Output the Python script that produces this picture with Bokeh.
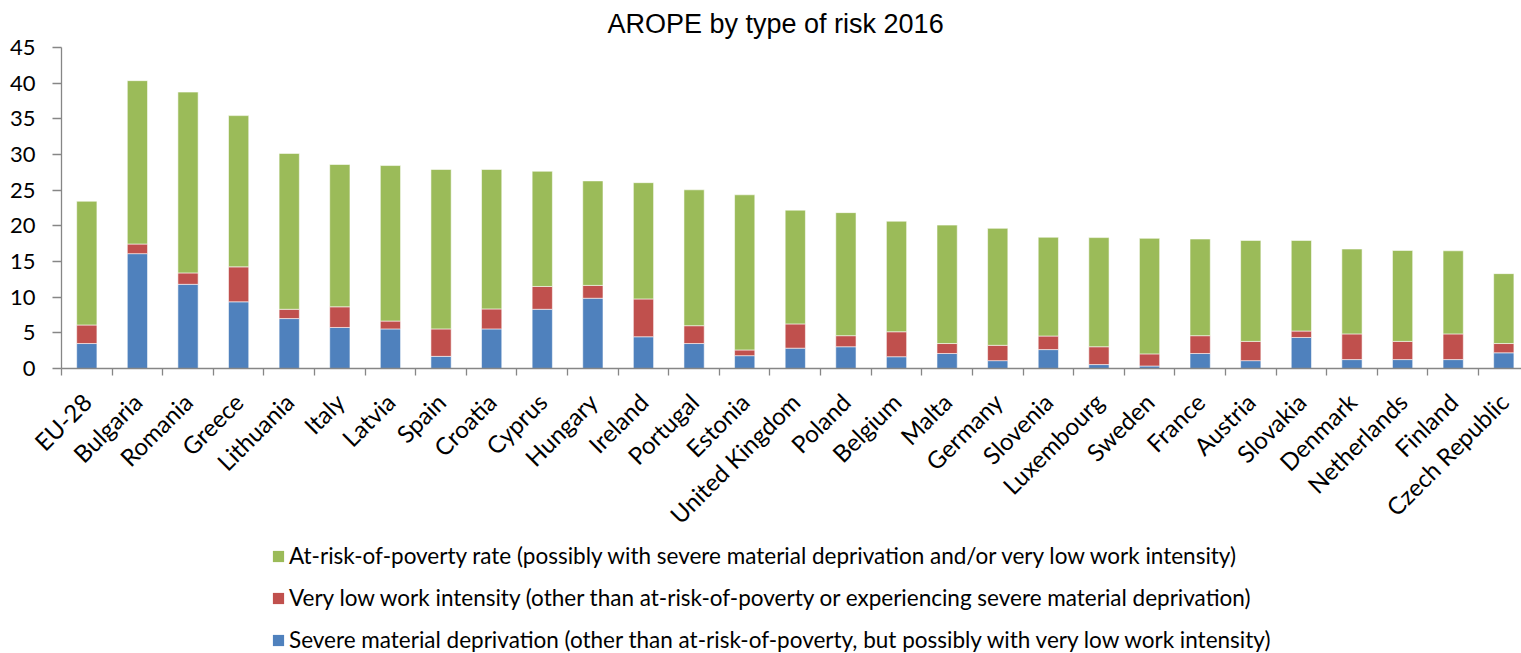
import math
from bokeh.plotting import figure
from bokeh.layouts import column
from bokeh.models import (ColumnDataSource, Range1d, FixedTicker, Legend, LegendItem,
                          LinearAxis)
from bokeh.embed import file_html
from bokeh.resources import INLINE

countries = ["EU-28", "Bulgaria", "Romania", "Greece", "Lithuania", "Italy", "Latvia",
             "Spain", "Croatia", "Cyprus", "Hungary", "Ireland", "Portugal", "Estonia",
             "United Kingdom", "Poland", "Belgium", "Malta", "Germany", "Slovenia",
             "Luxembourg", "Sweden", "France", "Austria", "Slovakia", "Denmark",
             "Netherlands", "Finland", "Czech Republic"]

severe_md = [3.5, 16.1, 11.8, 9.35, 7.0, 5.75, 5.55, 1.7, 5.55, 8.3, 9.85, 4.45, 3.5, 1.8,
             2.85, 3.05, 1.65, 2.1, 1.1, 2.65, 0.55, 0.35, 2.1, 1.1, 4.35, 1.25, 1.25, 1.25, 2.2]
low_work = [2.6, 1.35, 1.6, 4.9, 1.3, 2.9, 1.1, 3.85, 2.8, 3.2, 1.8, 5.3, 2.5, 0.8,
            3.4, 1.55, 3.5, 1.4, 2.15, 1.9, 2.5, 1.7, 2.5, 2.7, 0.9, 3.6, 2.55, 3.6, 1.3]
poverty = [17.35, 22.9, 25.35, 21.2, 21.85, 19.95, 21.8, 22.35, 19.55, 16.15, 14.65, 16.3,
           19.05, 21.75, 15.95, 17.25, 15.5, 16.6, 16.4, 13.85, 15.3, 16.2, 13.55, 14.15,
           12.7, 11.9, 12.75, 11.65, 9.8]

series_keys = ["severe", "lowwork", "poverty"]
series_labels = [
    "Severe material deprivation (other than at-risk-of-poverty, but possibly with very low work intensity)",
    "Very low work intensity (other than at-risk-of-poverty or experiencing severe material deprivation)",
    "At-risk-of-poverty rate (possibly with severe material deprivation and/or very low work intensity)",
]
colors = ["#4F81BD", "#C0504D", "#9BBB59"]
y_ticks = list(range(0, 50, 5))

xs = list(range(len(countries)))
source = ColumnDataSource(dict(x=xs, severe=severe_md, lowwork=low_work, poverty=poverty))

GRID = "#868686"

p = figure(width=1521, height=542, output_backend="svg", toolbar_location=None,
           x_range=Range1d(-0.5, 28.35), y_range=Range1d(0, 45),
           min_border_left=61, min_border_right=0, min_border_top=47, min_border_bottom=174,
           x_axis_type=None, y_axis_type=None)
p.outline_line_color = None
p.background_fill_color = "white"
p.border_fill_color = "white"

p.title.text = "AROPE by type of risk 2016"
p.title.text_font = "Liberation Sans"
p.title.text_font_size = "27px"
p.title.text_font_style = "normal"
p.title.text_color = "#000000"
p.title.align = "left"
p.title.offset = 546
p.title.vertical_align = "top"
p.title.standoff = 14

renderers = p.vbar_stack(series_keys, x="x", width=0.4, source=source, color=colors,
                         line_color="white", line_width=0.8, line_alpha=0.7)

# y axis
yaxis = LinearAxis(ticker=FixedTicker(ticks=y_ticks))
yaxis.axis_line_color = GRID
yaxis.axis_line_width = 1.3
yaxis.major_tick_line_color = GRID
yaxis.major_tick_line_width = 1.3
yaxis.major_tick_out = 9
yaxis.major_tick_in = 0
yaxis.minor_tick_line_color = None
yaxis.major_label_text_font = "Lato"
yaxis.major_label_text_font_size = "22px"
yaxis.major_label_text_color = "#000000"
yaxis.major_label_standoff = 17
p.add_layout(yaxis, "left")

# x axis (labels at category centres, tick marks at category boundaries)
xaxis = LinearAxis(ticker=FixedTicker(ticks=xs, minor_ticks=[i - 0.5 for i in range(len(countries) + 1)]))
xaxis.major_label_overrides = {i: c for i, c in enumerate(countries)}
xaxis.axis_line_color = GRID
xaxis.axis_line_width = 1.3
xaxis.major_tick_line_color = None
xaxis.major_tick_out = 0
xaxis.major_tick_in = 0
xaxis.minor_tick_line_color = GRID
xaxis.minor_tick_line_width = 1.3
xaxis.minor_tick_out = 7
xaxis.minor_tick_in = 0
xaxis.major_label_orientation = math.pi / 4
xaxis.major_label_text_font = "Lato"
xaxis.major_label_text_font_size = "24px"
xaxis.major_label_text_color = "#000000"
xaxis.major_label_standoff = 22
p.add_layout(xaxis, "below")

p.ygrid.ticker = FixedTicker(ticks=y_ticks)
p.ygrid.grid_line_color = GRID
p.ygrid.grid_line_width = 1.3
p.xgrid.grid_line_color = None

# legend panel below the chart (key swatches: zero-height bars, only used for the legend)
pl = figure(width=1521, height=111, output_backend="svg", toolbar_location=None,
            x_range=Range1d(0, 1), y_range=Range1d(0, 1),
            min_border_left=0, min_border_right=0, min_border_top=0, min_border_bottom=0,
            x_axis_type=None, y_axis_type=None)
pl.outline_line_color = None
pl.xgrid.grid_line_color = None
pl.ygrid.grid_line_color = None
key_src = ColumnDataSource(dict(x=[0.5], top=[0.0]))
keys = [pl.vbar(x="x", top="top", width=0.1, source=key_src, fill_color=c, line_color=None)
        for c in colors]

items = [LegendItem(label=series_labels[i], renderers=[keys[i]]) for i in (2, 1, 0)]
legend = Legend(items=items, location=(210, 0), orientation="vertical")
legend.border_line_color = None
legend.background_fill_alpha = 0
legend.padding = 0
legend.margin = 0
legend.spacing = 15
legend.glyph_width = 14
legend.glyph_height = 14
legend.label_height = 14
legend.label_standoff = 4
legend.label_text_font = "Lato"
legend.label_text_font_size = "22.5px"
legend.label_text_color = "#000000"
legend.label_text_baseline = "middle"
pl.add_layout(legend, "center")

layout = column(p, pl, spacing=0)
open("out.html", "w").write(file_html(layout, INLINE))
